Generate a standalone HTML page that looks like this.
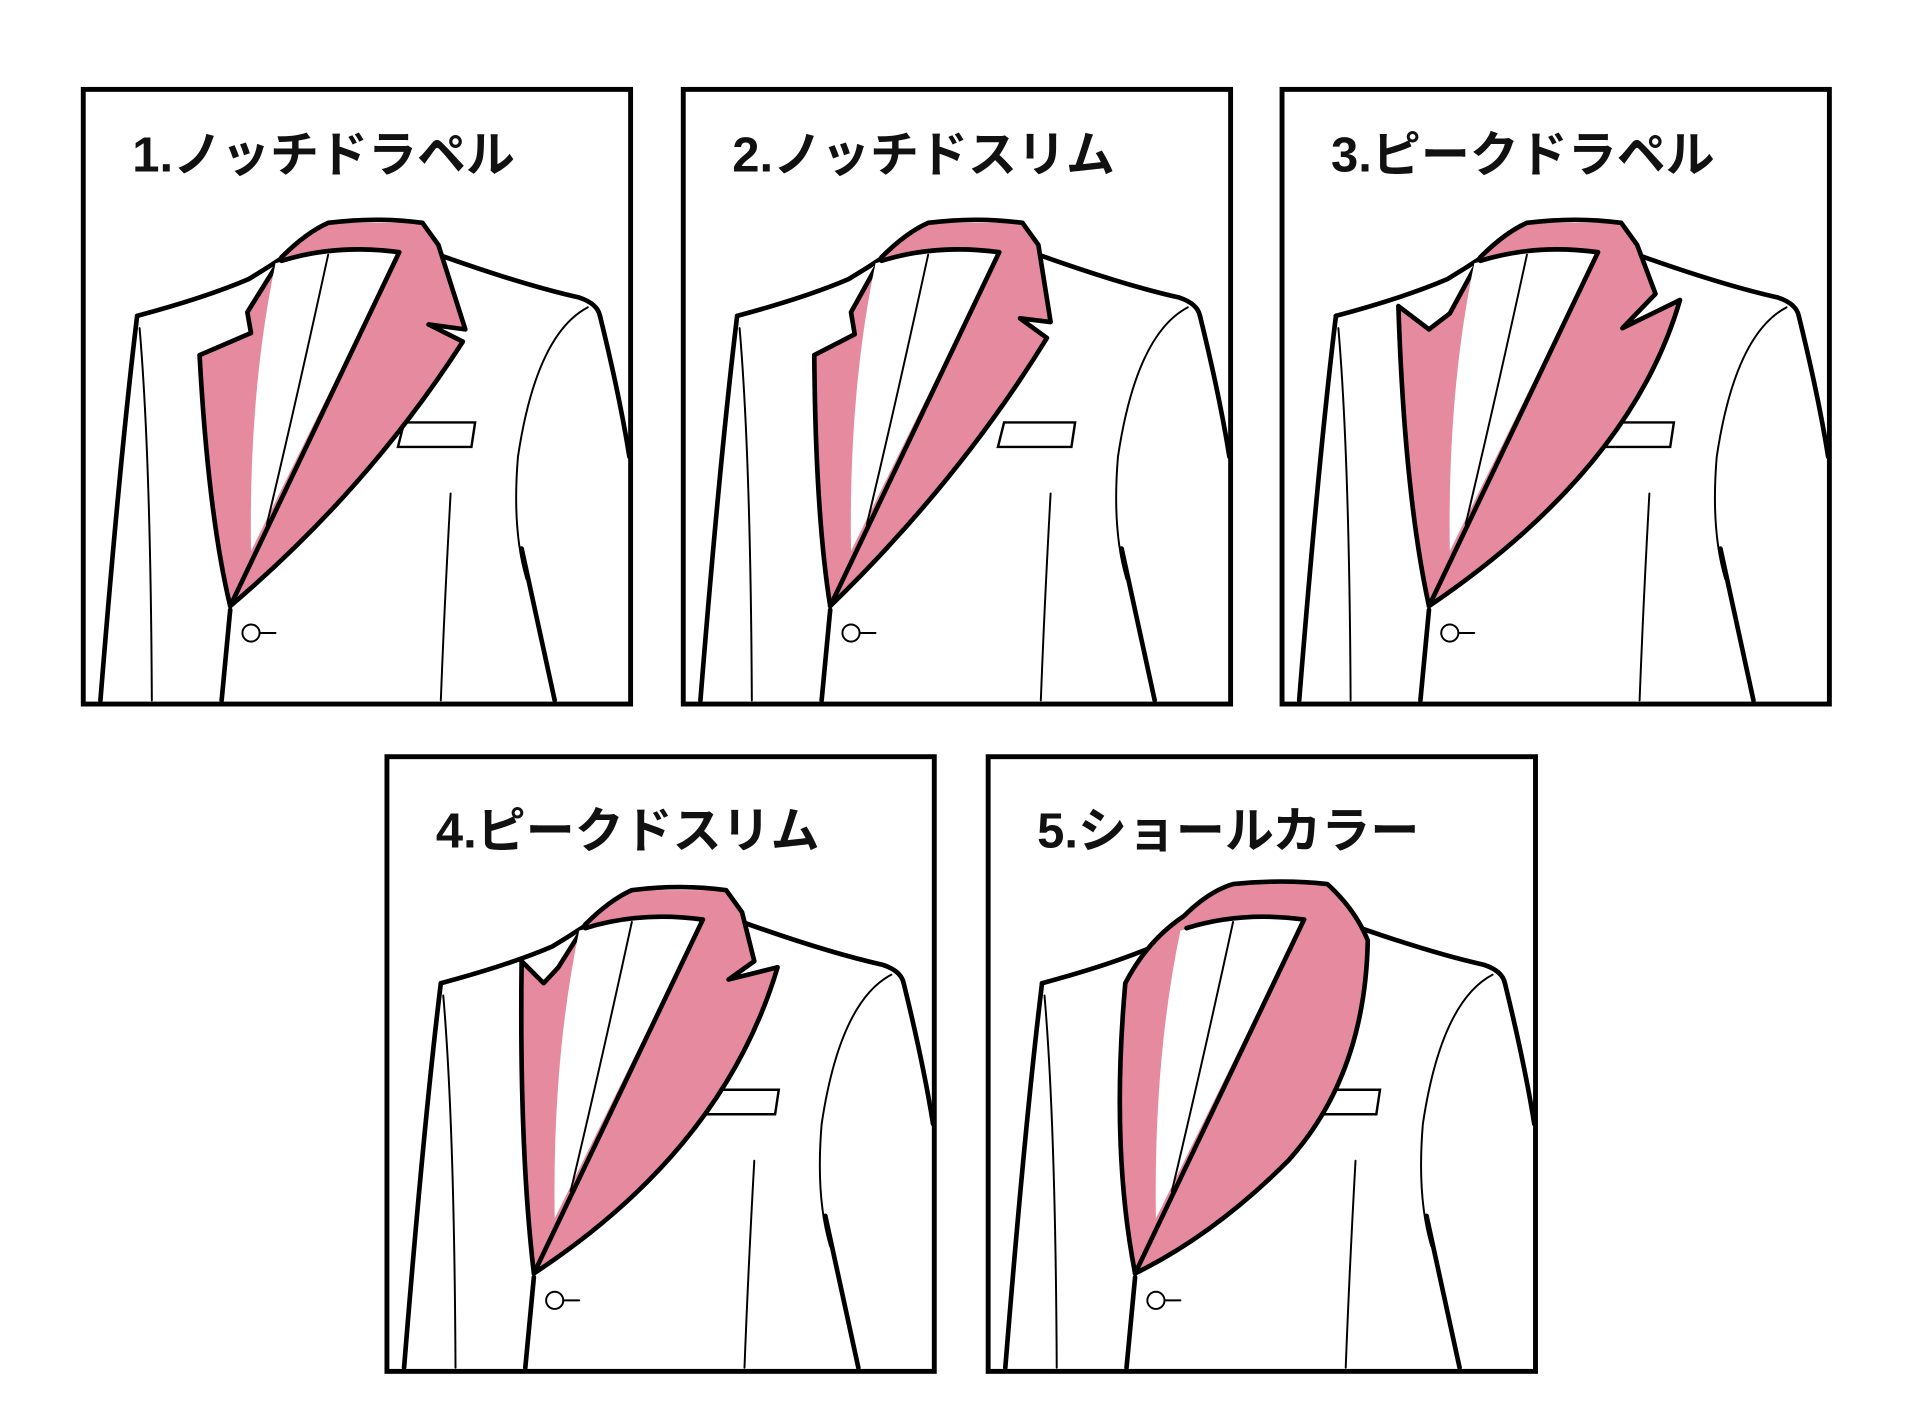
<!DOCTYPE html>
<html><head><meta charset="utf-8"><style>
html,body{margin:0;padding:0;background:#fff;}
svg{display:block}
text{font-family:"Liberation Sans","Noto Sans CJK JP",sans-serif;font-weight:bold;font-size:40px;fill:#111}
.k{fill:none;stroke:#000;stroke-width:3.8;stroke-linecap:round;stroke-linejoin:round}
.t{fill:none;stroke:#000;stroke-width:1.6;stroke-linecap:round}
.p{fill:#e68b9f}
.w{fill:#fff}
</style></head><body>
<svg width="1920" height="1401" viewBox="0 0 1568 1144.2" preserveAspectRatio="none">
<defs>
<g id="jk">
  <path class="k" d="M44,185 Q100,170 135,155 Q160,140 185,122"/>
  <path class="k" d="M44,185 Q30,300 14,499"/>
  <path class="t" d="M46,195 Q55,300 56,499"/>
  <path class="k" d="M290,135 Q360,160 405,170 Q420,175 422,185"/>
  <path class="k" d="M422,185 Q438,250 446,300"/>
  <path class="t" d="M412,178 Q370,200 355,300 Q350,360 362,400"/>
  <path class="k" d="M358,375 L385,499"/>
  <path class="t" d="M300,330 Q295,420 292,499"/>
  <path class="k" d="M120,425 L113,499"/>
  <circle cx="137" cy="444" r="7" class="w" stroke="#000" stroke-width="1.6"/>
  <path class="t" d="M144,444 L157,444"/>
  <path class="w" stroke="#000" stroke-width="2" d="M262,272 L320,272 L317,292 L257,292 Z"/>
  <rect x="0" y="0" width="447" height="502" fill="none" stroke="#000" stroke-width="4"/>
</g>
<g id="shirt">
  <path class="w" d="M157,142 Q207,128 257,134 L137,377 Q135,247 157,142 Z"/>
  <path class="t" d="M200,135 Q175,250 150,355"/>
  <path class="k" d="M162,140 Q207,126 258,133"/>
  <path class="k" d="M258,133 L120,422"/>
</g>
</defs>

<g transform="translate(68,73)">
  <use href="#jk"/>
  <path class="p" d="M95,217 L137,199 L134,182 L162,137 Q182,117 200,109 L277,109 L290,127 L312,196 L282,192 L310,206 Q232,327 120,422 Q102,347 95,217 Z"/>
  <path class="k" d="M95,217 L137,199 L134,182 L162,137 Q182,117 200,109 Q240,104 277,109 L290,127 L312,196 L282,192 L310,206 Q232,327 120,422 Q102,347 95,217"/>
  <use href="#shirt"/>
  <text x="40" y="67">1.ノッチドラペル</text>
</g>
<g transform="translate(558,73)">
  <use href="#jk"/>
  <path class="p" d="M107,217 L140,200 L137,182 L162,137 Q182,117 200,109 L277,109 L290,127 L300,190 L275,187 L297,203 Q225,320 120,422 Q108,347 107,217 Z"/>
  <path class="k" d="M107,217 L140,200 L137,182 L162,137 Q182,117 200,109 Q240,104 277,109 L290,127 L300,190 L275,187 L297,203 Q225,320 120,422 Q108,347 107,217"/>
  <use href="#shirt"/>
  <text x="40" y="67">2.ノッチドスリム</text>
</g>
<g transform="translate(1047,73)">
  <use href="#jk"/>
  <path class="p" d="M95,177 L120,196 L137,183 L162,137 Q182,117 200,109 L277,109 L290,127 L305,167 L278,195 L325,172 Q285,310 120,422 Q100,330 95,177 Z"/>
  <path class="k" d="M95,177 L120,196 L137,183 L162,137 Q182,117 200,109 Q240,104 277,109 L290,127 L305,167 L278,195 L325,172 Q285,310 120,422 Q100,330 95,177"/>
  <use href="#shirt"/>
  <text x="40" y="67">3.ピークドラペル</text>
</g>
<g transform="translate(316,618)">
  <use href="#jk"/>
  <path class="p" d="M110,167 L128,185 L140,172 L162,137 Q182,117 200,109 L277,109 L290,127 L300,167 L279,182 L319,172 Q275,320 120,422 Q108,320 110,167 Z"/>
  <path class="k" d="M110,167 L128,185 L140,172 L162,137 Q182,117 200,109 Q240,104 277,109 L290,127 L300,167 L279,182 L319,172 Q275,320 120,422 Q108,320 110,167"/>
  <use href="#shirt"/>
  <text x="40" y="74">4.ピークドスリム</text>
</g>
<g transform="translate(807,618)">
  <use href="#jk"/>
  <path class="p" d="M112,185 Q130,150 160,130 Q180,110 200,104 L277,104 Q300,125 310,150 Q308,260 245,330 Q185,390 120,422 Q100,320 112,185 Z"/>
  <path class="k" d="M112,185 Q130,150 160,130 Q180,110 200,104 Q240,100 277,104 Q300,125 310,150 Q308,260 245,330 Q185,390 120,422 Q100,320 112,185"/>
  <use href="#shirt"/>
  <text x="40" y="74">5.ショールカラー</text>
</g>
</svg>
</body></html>
